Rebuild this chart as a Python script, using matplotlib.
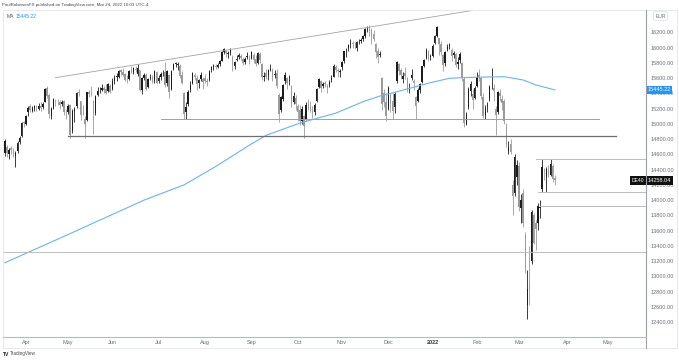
# -*- coding: utf-8 -*-
# DE40 daily candles with 200 MA and drawn support / resistance lines
import numpy as np
import pandas as pd
import matplotlib
matplotlib.use("Agg")
import matplotlib.pyplot as plt
from matplotlib.lines import Line2D

# ============================================================
# Data, one trading day per entry,
# 2021-03-18 .. 2022-03-24
# ============================================================
opens = [
    14620, 14700, 14600, 14680, 14660, 14580, 14640, 14760, 14840, 15020,
    15000, 15150, 15230, 15170, 15210, 15230, 15200, 15240, 15220, 15290, 15470, 15380, 15100, 15210, 15290, 15300, 15290, 15260, 15300, 15140,
    15150, 15250, 14900, 15170, 15230, 15420, 15300, 15160, 15060, 15050, 15420, 15410, 15300, 15140, 15380, 15440, 15450, 15470, 15460, 15430, 15500,
    15460, 15560, 15610, 15620, 15700, 15680, 15650, 15580, 15590, 15700, 15680, 15720, 15650, 15700, 15440, 15600, 15640, 15480, 15600, 15620, 15560, 15680,
    15560, 15620, 15660, 15680, 15540, 15640, 15460, 15720, 15790, 15770, 15760, 15640, 15410, 15150, 15260, 15450, 15540, 15640, 15600, 15540, 15590, 15590,
    15600, 15560, 15580, 15700, 15740, 15750, 15740, 15780, 15830, 15940, 15950, 15920, 15930, 15880, 15760, 15840, 15870, 15890, 15850, 15810, 15870, 15880,
    15860, 15900, 15850, 15800, 15920, 15790, 15620, 15670, 15640, 15710, 15700, 15640, 15660, 15380, 15180, 15320, 15560, 15600, 15560, 15500, 15290, 15340,
    15230, 15180, 15040, 15100, 15060, 15260, 15220, 15170, 15150, 15300, 15480, 15560, 15490, 15530, 15500, 15510, 15570, 15620, 15740, 15700, 15680,
    15750, 15830, 15950, 15990, 16050, 16050, 16050, 16000, 16080, 16090, 16110, 16150, 16250, 16260, 16230, 16180, 16050, 15960, 15900, 15600, 15400, 15280,
    15200, 15380, 15300, 15220, 15560, 15780, 15700, 15590, 15670, 15600, 15460, 15600, 15560, 15350, 15300, 15440, 15550, 15760, 15860, 15950, 15880,
    15890, 16060, 16150, 16120, 16050, 15900, 15800, 15980, 16020, 15970, 15900, 15920, 15790, 15840, 15800, 15590, 15000, 15220, 15430, 15390, 15340,
    15500, 15640, 15600, 15350, 15120, 15230, 15320, 15490, 15470, 15200, 15150, 15400, 15330, 15300, 14960, 14650, 14730, 14200, 14100, 14300,
    14450, 13900, 14100, 13550, 12620, 12900, 13200, 13800, 13700, 13700, 13900, 14150, 14400, 14300, 14400, 14330, 14450, 14290,
]
highs = [
    14804, 14720, 14690, 14710, 14690, 14640, 14770, 14840, 15020, 15040,
    15110, 15240, 15260, 15230, 15250, 15250, 15270, 15280, 15290, 15470, 15500, 15400, 15220, 15340, 15330, 15330, 15310, 15310, 15310, 15190,
    15260, 15260, 15190, 15220, 15420, 15460, 15300, 15250, 15100, 15420, 15440, 15500, 15310, 15380, 15480, 15480, 15520, 15490, 15520, 15540, 15520,
    15600, 15640, 15660, 15700, 15720, 15730, 15670, 15640, 15700, 15760, 15740, 15760, 15780, 15710, 15610, 15660, 15660, 15600, 15650, 15640, 15700, 15690,
    15640, 15680, 15700, 15810, 15700, 15650, 15700, 15800, 15810, 15810, 15780, 15690, 15420, 15280, 15450, 15560, 15680, 15660, 15640, 15590, 15680, 15620,
    15650, 15600, 15710, 15760, 15790, 15780, 15800, 15840, 15950, 15990, 15970, 15960, 15990, 15900, 15830, 15900, 15930, 15920, 15880, 15880, 15940, 15900,
    15960, 15930, 15900, 15940, 15940, 15800, 15680, 15720, 15720, 15790, 15730, 15700, 15720, 15400, 15370, 15520, 15680, 15620, 15640, 15510, 15420, 15380,
    15260, 15250, 15230, 15110, 15280, 15330, 15300, 15230, 15270, 15470, 15600, 15580, 15550, 15560, 15520, 15580, 15640, 15780, 15770, 15730, 15720,
    15830, 15960, 15990, 16050, 16110, 16080, 16070, 16090, 16110, 16120, 16160, 16260, 16280, 16290, 16260, 16230, 16060, 15990, 15960, 15620, 15460, 15400,
    15500, 15400, 15400, 15420, 15820, 15800, 15730, 15680, 15740, 15620, 15530, 15720, 15590, 15360, 15470, 15540, 15760, 15850, 15990, 15970, 15920,
    16040, 16170, 16285, 16130, 16090, 15920, 15960, 16050, 16060, 15990, 15960, 15930, 15880, 15940, 15810, 15610, 15160, 15480, 15560, 15460, 15500,
    15680, 15720, 15620, 15400, 15250, 15280, 15510, 15736, 15520, 15230, 15430, 15460, 15380, 15320, 15010, 14780, 14800, 14260, 14600, 14520,
    14500, 14080, 14150, 13580, 13090, 13400, 13870, 13830, 13740, 13960, 14000, 14540, 14420, 14430, 14460, 14540, 14480, 14330,
]
lows = [
    14580, 14560, 14540, 14600, 14560, 14430, 14620, 14730, 14830, 14960,
    14990, 15100, 15150, 15150, 15170, 15170, 15180, 15170, 15200, 15280, 15340, 15080, 15070, 15190, 15230, 15250, 15200, 15230, 15120, 15070,
    15130, 14820, 14880, 15020, 15210, 15360, 15050, 15110, 14820, 15040, 15350, 15370, 14870, 15120, 15360, 15400, 15430, 15400, 15390, 15420, 15400,
    15450, 15520, 15560, 15600, 15640, 15630, 15560, 15540, 15570, 15660, 15650, 15680, 15630, 15430, 15390, 15570, 15440, 15470, 15580, 15540, 15540, 15520,
    15540, 15580, 15630, 15480, 15500, 15340, 15450, 15700, 15740, 15700, 15600, 15520, 15070, 15070, 15240, 15420, 15520, 15570, 15450, 15470, 15560, 15460,
    15530, 15500, 15560, 15680, 15710, 15720, 15730, 15760, 15820, 15910, 15880, 15860, 15900, 15690, 15720, 15820, 15850, 15840, 15770, 15780, 15850, 15780,
    15850, 15800, 15760, 15790, 15800, 15580, 15560, 15590, 15580, 15690, 15560, 15600, 15470, 15020, 15160, 15300, 15520, 15460, 15510, 15220, 15260, 15180,
    15040, 14990, 15000, 14820, 15050, 15180, 15150, 15080, 15110, 15290, 15470, 15420, 15470, 15480, 15400, 15480, 15550, 15610, 15680, 15620, 15620,
    15700, 15800, 15880, 15960, 16000, 16000, 15980, 15950, 16040, 16060, 16080, 16130, 16200, 16150, 16050, 16080, 15860, 15800, 15880, 15180, 15220, 15040,
    15180, 15150, 15060, 15140, 15540, 15640, 15590, 15540, 15590, 15420, 15400, 15580, 15450, 15060, 15280, 15400, 15540, 15740, 15850, 15820, 15840,
    15880, 16040, 16140, 15900, 15900, 15690, 15760, 15950, 15980, 15830, 15860, 15740, 15720, 15800, 15560, 14960, 14980, 15200, 15360, 15200, 15320,
    15480, 15560, 15330, 15080, 15060, 15150, 15300, 15460, 15300, 14850, 15130, 15300, 15180, 15000, 14700, 14600, 14600, 13810, 14050, 14200,
    13860, 13700, 13650, 13050, 12440, 12630, 13170, 13420, 13350, 13610, 13760, 14110, 14270, 14110, 14300, 14320, 14240, 14200,
]
closes = [
    14776, 14621, 14657, 14662, 14610, 14621, 14749, 14818, 15009, 15008,
    15107, 15212, 15177, 15203, 15234, 15215, 15235, 15209, 15255, 15460, 15368, 15129, 15196, 15321, 15280, 15296, 15249, 15292, 15155, 15136,
    15236, 14856, 15170, 15197, 15400, 15400, 15120, 15150, 15000, 15416, 15397, 15386, 15113, 15370, 15437, 15440, 15465, 15450, 15407, 15520, 15421,
    15567, 15603, 15632, 15693, 15677, 15640, 15581, 15571, 15693, 15674, 15729, 15711, 15727, 15448, 15603, 15636, 15456, 15589, 15608, 15554, 15691, 15531,
    15603, 15650, 15661, 15511, 15692, 15421, 15688, 15790, 15790, 15788, 15630, 15540, 15133, 15216, 15423, 15514, 15669, 15619, 15519, 15570, 15640, 15544,
    15568, 15555, 15692, 15744, 15761, 15745, 15770, 15826, 15937, 15977, 15925, 15921, 15966, 15765, 15808, 15852, 15906, 15860, 15794, 15852, 15888, 15835,
    15946, 15840, 15781, 15932, 15843, 15610, 15623, 15609, 15701, 15723, 15616, 15652, 15490, 15132, 15349, 15507, 15644, 15531, 15574, 15249, 15365, 15260,
    15156, 15036, 15195, 14973, 15250, 15206, 15199, 15147, 15250, 15463, 15587, 15474, 15516, 15523, 15472, 15543, 15600, 15758, 15705, 15697, 15688,
    15807, 15955, 15960, 16030, 16054, 16046, 16040, 16068, 16083, 16094, 16148, 16247, 16251, 16221, 16160, 16116, 15937, 15878, 15918, 15257, 15280, 15100,
    15472, 15263, 15170, 15387, 15814, 15687, 15639, 15623, 15622, 15453, 15476, 15637, 15532, 15240, 15447, 15524, 15756, 15837, 15964, 15853, 15885,
    16021, 16152, 16271, 16052, 15948, 15768, 15942, 16010, 16031, 15883, 15934, 15772, 15810, 15912, 15603, 15011, 15123, 15460, 15524, 15318, 15471,
    15619, 15613, 15368, 15100, 15207, 15242, 15482, 15490, 15425, 15113, 15412, 15370, 15268, 15042, 14731, 14693, 14631, 14052, 14567, 14461,
    13905, 14000, 13698, 13094, 12835, 12831, 13847, 13442, 13628, 13929, 13917, 14440, 14388, 14413, 14326, 14473, 14283, 14258.04,
]
last_date = "2022-03-24"
holidays = ["2021-04-02", "2021-04-05", "2021-12-24", "2021-12-31",
            "2022-04-15", "2022-04-18"]

# 200-period moving average, read at a few bars
ma_bars = [0, 30, 66, 85, 100, 116, 124, 140, 157, 170, 178, 186, 194,
           202, 211, 220, 230, 237, 246, 252, 261]
ma_vals = [13180, 13550, 14000, 14200, 14440, 14720, 14850, 15010, 15140,
           15290, 15365, 15420, 15480, 15540, 15597, 15608, 15615, 15618,
           15575, 15510, 15445.22]

# rising trendline across the highs
trend_bars = [24, 222]
trend_prices = [15605, 16486]

# horizontal levels: price, first bar, last bar
level_prices = [14840, 15058, 14542, 14110, 13922, 13318]
level_from = [30, 74, 252, 253, 254, -1]
level_to = [290, 282, 305, 305, 305, 305]

y_ticks = list(range(12400, 16201, 200))

# ============================================================
# Figure
# ============================================================
W, H = 679, 360
fig = plt.figure(figsize=(W / 100, H / 100), dpi=100)
fig.patch.set_facecolor("white")
plt.rcParams["font.family"] = ["Liberation Sans", "DejaVu Sans"]


def fx(px):
    return px / W


def fy(py):
    return 1 - py / H


ax_l, ax_r, ax_t, ax_b = 3, 646, 10, 336.7
ax = fig.add_axes([fx(ax_l), fy(ax_b), fx(ax_r - ax_l), (ax_b - ax_t) / H])
for s in ax.spines.values():
    s.set_visible(False)

o = np.array(opens, float)
h = np.array(highs, float)
l = np.array(lows, float)
c = np.array(closes, float)
x = np.arange(len(c))

# candles
up_col, dn_col = "#1c1c1c", "#9a9a9a"
up = c >= o
body = np.maximum(np.abs(c - o), 8)
for mask, col in ((up, up_col), (~up, dn_col)):
    ax.vlines(x[mask], l[mask], h[mask], color=col, lw=0.6)
    ax.bar(x[mask], body[mask], bottom=np.minimum(o, c)[mask], width=0.7,
           color=col, linewidth=0)

# moving average
ax.plot(ma_bars, ma_vals, color="#6bb3ee", lw=0.8)

# trendline and levels
ax.plot(trend_bars, trend_prices, color="#a3a3a3", lw=0.6)
lev_style = [("#6e6e6e", 0.9), ("#a0a0a0", 0.7), ("#bdbdbd", 0.7),
             ("#bdbdbd", 0.7), ("#bdbdbd", 0.7), ("#bdbdbd", 0.7)]
for p, a, b, (col, lw) in zip(level_prices, level_from, level_to, lev_style):
    ax.plot([a, b], [p, p], color=col, lw=lw)

ax.set_xlim(-0.9, 304.3)
ax.set_ylim(12211, 16492)

# time axis from the trading calendar
cal = pd.offsets.CustomBusinessDay(holidays=holidays)
all_days = pd.date_range("2021-03-01", "2022-06-30", freq=cal)
end_pos = all_days.get_loc(pd.Timestamp(last_date))
start_pos = end_pos - len(c) + 1
tick_x, tick_lab = [], []
for m in pd.date_range("2021-04-01", "2022-05-01", freq="MS"):
    pos = np.searchsorted(all_days, m)
    tick_x.append(pos - start_pos)
    tick_lab.append("2022" if m.month == 1 else m.strftime("%b"))
ax.set_xticks(tick_x)
ax.set_xticklabels(tick_lab)
ax.tick_params(axis="x", length=0, pad=2.6, labelsize=4, colors="#6a6d78")
for t in ax.get_xticklabels():
    if t.get_text() == "2022":
        t.set_fontweight("bold")
        t.set_color("#333333")

ax.yaxis.tick_right()
ax.set_yticks(y_ticks)
ax.set_yticklabels([f"{v:.2f}" for v in y_ticks])
ax.tick_params(axis="y", length=0, pad=3.2, labelsize=4, colors="#6a6d78")


# frame lines
def fline(x0, y0, x1, y1, col, lw):
    fig.add_artist(Line2D([fx(x0), fx(x1)], [fy(y0), fy(y1)], color=col, lw=lw))


fline(3, 10, 677, 10, "#e3e5ea", 0.6)
fline(3, 10, 3, 348, "#e3e5ea", 0.6)
fline(677, 10, 677, 348, "#e3e5ea", 0.6)
fline(3, 348, 677, 348, "#e3e5ea", 0.6)
fline(ax_r, 10, ax_r, 348, "#9ea1aa", 0.8)
fline(3, ax_b, ax_r, ax_b, "#b6b9c1", 0.8)

# price tags
ytr = ax.get_yaxis_transform()
ax.text(1.0025, ma_vals[-1], f"{ma_vals[-1]:.2f}", transform=ytr, ha="left",
        va="center", fontsize=4, color="white", clip_on=False,
        bbox=dict(boxstyle="square,pad=0.3", fc="#2196f3", ec="none"))
ax.text(1.0025, c[-1], f"{c[-1]:.2f}", transform=ytr, ha="left",
        va="center", fontsize=4, color="white", clip_on=False,
        bbox=dict(boxstyle="square,pad=0.3", fc="#111111", ec="none"))
ax.text(0.997, c[-1], "DE40", transform=ytr, ha="right", va="center",
        fontsize=3.6, color="white", clip_on=False,
        bbox=dict(boxstyle="square,pad=0.35", fc="#111111", ec="none"))

# currency box
fig.text(fx(660.5), fy(16), "EUR", ha="center", va="center", fontsize=3.6,
         color="#6a6d78",
         bbox=dict(boxstyle="round,pad=0.35,rounding_size=0.3", fc="white",
                   ec="#d6d8de", lw=0.5))

# header
fig.text(fx(2), fy(5), "PaulRobinsonFX published on TradingView.com, Mar 24, 2022 10:03 UTC-4",
         ha="left", va="center", fontsize=3.2, color="#444444")
fig.text(fx(7), fy(16), "MA", ha="left", va="center", fontsize=3.6, color="#555555")
fig.text(fx(16), fy(16), f"{ma_vals[-1]:.2f}", ha="left", va="center",
         fontsize=3.6, color="#2196f3")

# footer logo
fig.text(fx(3), fy(354), "TV", ha="left", va="center", fontsize=3.6,
         fontweight="bold", color="#131722")
fig.text(fx(10), fy(354), "TradingView", ha="left", va="center", fontsize=3.3,
         color="#444444")

fig.savefig("out.png", dpi=100)
